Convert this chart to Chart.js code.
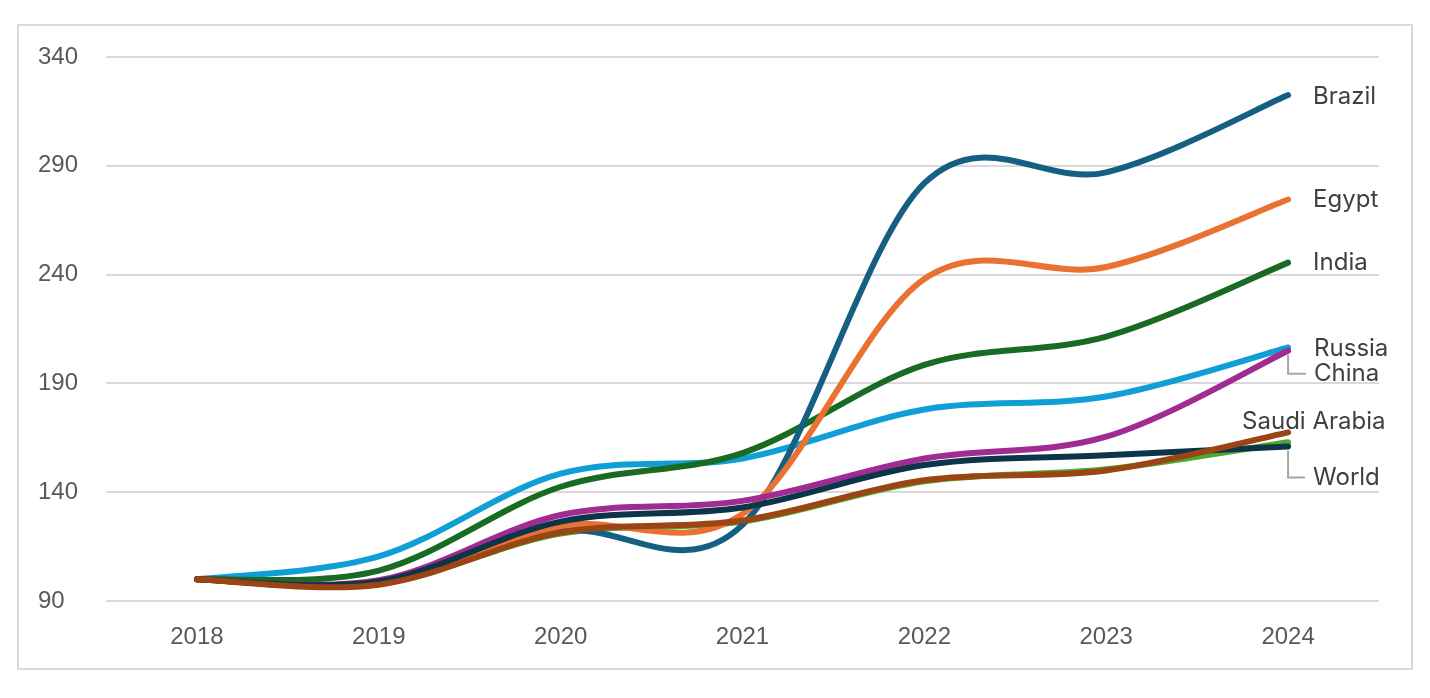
<!DOCTYPE html>
<html>
<head>
<meta charset="utf-8">
<script src="https://cdn.jsdelivr.net/npm/chart.js@4.4.1/dist/chart.umd.min.js"></script>
<style>
  html, body { margin: 0; padding: 0; background: #ffffff; }
  #wrap { position: relative; width: 1430px; height: 698px; }
</style>
</head>
<body>
<div id="wrap"><canvas id="c" width="1430" height="698"></canvas></div>
<script>
// ---- data ----
const years = ['2018', '2019', '2020', '2021', '2022', '2023', '2024'];
const yTicks = [90, 140, 190, 240, 290, 340];

const brazil      = [100, 98,    122,   125,   282,   287,   322.5];
const egypt       = [100, 98.5,  124.5, 130,   238,   243.5, 274.5];
const india       = [100, 104,   142.5, 158,   198.5, 211.5, 245.5];
const russia      = [100, 110.5, 148.5, 155.5, 178,   184,   206.5];
const china       = [100, 99.5,  129.5, 136,   155.5, 165.5, 205];
const world       = [100, 99,    126.5, 133,   152.5, 157,   161];
const saudiArabia = [100, 97.5,  121.5, 127,   145.5, 150,   167.5];
const otherSeries = [100, 98,    121,   126.5, 145,   150.5, 163];

const seriesNames = ['Brazil', 'Egypt', 'India', 'Russia', 'China', 'Saudi Arabia', 'World', ''];
const seriesData  = [brazil, egypt, india, russia, china, saudiArabia, world, otherSeries];
const seriesColors = ['#156082', '#E97132', '#196B24', '#0F9ED5', '#A02B93', '#9A4513', '#0D3549', '#4EA72E'];
const seriesOrder = [5, 4, 6, 7, 3, 1, 2, 8];
const seriesWidth = [6, 6, 6, 6, 6, 6, 6, 6];

// label placement offsets (dx, dy from last point) and leader lines
const labelOffsets = {
  'Brazil': [25, 2, false],
  'Egypt': [25, 0, false],
  'India': [25, 0, false],
  'Russia': [26, 1, false],
  'China': [26, 23, true],
  'Saudi Arabia': [-46, -11, false],
  'World': [25, 31, true]
};

const datasets = seriesNames.map((n, i) => ({
  label: n,
  data: seriesData[i],
  borderColor: seriesColors[i],
  backgroundColor: seriesColors[i],
  borderWidth: seriesWidth[i],
  pointRadius: 0,
  pointHoverRadius: 0,
  tension: 0.4,
  borderCapStyle: 'round',
  borderJoinStyle: 'round',
  fill: false,
  order: seriesOrder[i]
}));

// Excel-like smoothing: uniform Catmull-Rom control points on the library's own points
const smoothK = 1 / 6;
const excelSmooth = {
  id: 'excelSmooth',
  beforeDatasetsDraw(chart) {
    chart.data.datasets.forEach((ds, i) => {
      const meta = chart.getDatasetMeta(i);
      if (!meta.dataset) return;
      meta.dataset.updateControlPoints(chart.chartArea, 'x');
      const pts = meta.data;
      for (let j = 0; j < pts.length; j++) {
        const p = pts[j];
        const prev = pts[j - 1] || p;
        const next = pts[j + 1] || p;
        const dx = (next.x - prev.x) * smoothK;
        const dy = (next.y - prev.y) * smoothK;
        p.cp1x = p.x - dx; p.cp1y = p.y - dy;
        p.cp2x = p.x + dx; p.cp2y = p.y + dy;
      }
    });
  }
};

const frame = {
  id: 'frame',
  beforeDraw(chart) {
    const ctx = chart.ctx;
    ctx.save();
    ctx.fillStyle = '#ffffff';
    ctx.fillRect(0, 0, chart.width, chart.height);
    ctx.strokeStyle = '#d9d9d9';
    ctx.lineWidth = 2;
    ctx.strokeRect(18, 25, 1394, 644);
    ctx.restore();
  }
};

const endLabels = {
  id: 'endLabels',
  afterDatasetsDraw(chart) {
    const ctx = chart.ctx;
    ctx.save();
    ctx.font = '24px Inter, "Open Sans", sans-serif';
    ctx.fillStyle = '#404040';
    ctx.textBaseline = 'middle';
    ctx.textAlign = 'left';
    chart.data.datasets.forEach((ds, i) => {
      const off = labelOffsets[ds.label];
      if (!off) return;
      const meta = chart.getDatasetMeta(i);
      const pt = meta.data[meta.data.length - 1];
      const lx = pt.x + off[0];
      const ly = pt.y + off[1];
      if (off[2]) {
        ctx.strokeStyle = '#a6a6a6';
        ctx.lineWidth = 2;
        ctx.beginPath();
        ctx.moveTo(pt.x, pt.y + 4);
        ctx.lineTo(pt.x, ly);
        ctx.lineTo(lx - 8, ly);
        ctx.stroke();
      }
      ctx.fillText(ds.label, lx, ly);
    });
    ctx.restore();
  }
};

new Chart(document.getElementById('c'), {
  type: 'line',
  data: { labels: years, datasets },
  options: {
    responsive: false,
    animation: false,
    devicePixelRatio: 1,
    layout: { padding: { left: 38, right: 51, top: 57, bottom: 37 } },
    plugins: {
      legend: { display: false },
      tooltip: { enabled: false },
      title: { display: false }
    },
    scales: {
      x: {
        offset: true,
        grid: { display: false, drawTicks: false },
        border: { display: false },
        ticks: {
          color: '#595959',
          font: { family: '"Liberation Sans", Arial, sans-serif', size: 24 },
          padding: 22,
          maxRotation: 0
        },
        afterFit(scale) { scale.height = 60; }
      },
      y: {
        min: 90,
        max: 340,
        afterBuildTicks(scale) { scale.ticks = yTicks.map(v => ({ value: v })); },
        grid: { color: '#d9d9d9', lineWidth: 2, drawTicks: false },
        border: { display: false },
        ticks: {
          color: '#595959',
          crossAlign: 'far',
          font: { family: '"Liberation Sans", Arial, sans-serif', size: 24 },
          padding: 10
        },
        afterFit(scale) { scale.width = 68; }
      }
    }
  },
  plugins: [frame, excelSmooth, endLabels]
});
</script>
</body>
</html>
